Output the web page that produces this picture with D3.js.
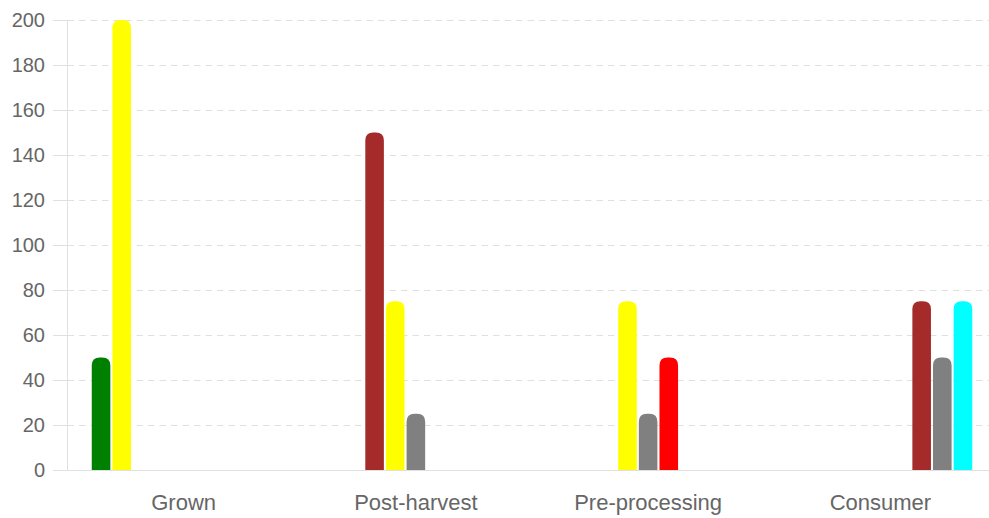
<!DOCTYPE html>
<html>
<head>
<meta charset="utf-8">
<script src="https://cdn.jsdelivr.net/npm/d3@7"></script>
<style>
  html, body { margin: 0; padding: 0; background: #fff; }
  svg { display: block; font-family: "Liberation Sans", Arial, Helvetica, sans-serif; }
</style>
</head>
<body>
<svg id="chart" width="989" height="518"></svg>
<script>
// Supply-chain stages along the x axis
const categories = ["Grown", "Post-harvest", "Pre-processing", "Consumer"];

// One colour per series; series sit side by side inside each stage
const seriesColors = ["green", "yellow", "brown", "yellow", "gray", "red", "brown", "gray", "cyan"];

// Values per series, one entry per stage (null = no bar)
const s0 = [50, null, null, null];
const s1 = [200, null, null, null];
const s2 = [null, 150, null, null];
const s3 = [null, 75, 75, null];
const s4 = [null, 25, 25, null];
const s5 = [null, null, 50, null];
const s6 = [null, null, null, 75];
const s7 = [null, null, null, 50];
const s8 = [null, null, null, 75];
const seriesValues = [s0, s1, s2, s3, s4, s5, s6, s7, s8];

const yTicks = [0, 20, 40, 60, 80, 100, 120, 140, 160, 180, 200];

(function draw() {
  const svg = d3.select("#chart");
  const plotLeft = 67.5, plotRight = 996.5, plotTop = 20, plotBottom = 470;
  const lineColor = "#e0e0e0";

  const x = d3.scaleBand().domain(categories).range([plotLeft, plotRight]);
  const B = x.bandwidth();
  const xs = d3.scaleBand()
    .domain(d3.range(seriesValues.length))
    .range([0.1 * B, 0.9 * B])
    .paddingInner(0.1)
    .paddingOuter(0.05);
  const y = d3.scaleLinear().domain([0, 200]).range([plotBottom, plotTop]);

  // Horizontal grid (dashed) and tick stubs
  const grid = svg.append("g");
  yTicks.filter(d => d !== 0).forEach(t => {
    const yy = Math.round(y(t)) + 0.5;
    grid.append("line")
      .attr("x1", plotLeft).attr("x2", 989).attr("y1", yy).attr("y2", yy)
      .attr("stroke", lineColor).attr("stroke-width", 1)
      .attr("stroke-dasharray", "6.5,5");
  });
  yTicks.forEach(t => {
    const yy = Math.round(y(t)) + 0.5;
    grid.append("line")
      .attr("x1", 53).attr("x2", plotLeft).attr("y1", yy).attr("y2", yy)
      .attr("stroke", lineColor).attr("stroke-width", 1);
  });

  // Y axis line
  svg.append("line")
    .attr("x1", plotLeft).attr("x2", plotLeft).attr("y1", plotTop).attr("y2", plotBottom)
    .attr("stroke", lineColor).attr("stroke-width", 1);

  // Bars with rounded top corners
  function barPath(x0, w, y0, y1, r) {
    r = Math.min(r, w / 2, y1 - y0);
    return `M${x0},${y1}V${y0 + r}Q${x0},${y0} ${x0 + r},${y0}H${x0 + w - r}Q${x0 + w},${y0} ${x0 + w},${y0 + r}V${y1}Z`;
  }
  const bars = svg.append("g");
  seriesValues.forEach((vals, si) => {
    vals.forEach((v, ci) => {
      if (v == null) return;
      const x0 = x(categories[ci]) + xs(si);
      bars.append("path")
        .attr("d", barPath(x0, xs.bandwidth(), y(v), y(0), 8))
        .attr("fill", seriesColors[si]);
    });
  });

  // X axis line
  svg.append("line")
    .attr("x1", plotLeft).attr("x2", 989)
    .attr("y1", Math.round(y(0)) + 0.5).attr("y2", Math.round(y(0)) + 0.5)
    .attr("stroke", lineColor).attr("stroke-width", 1);

  // Y tick labels
  svg.append("g").selectAll("text").data(yTicks).join("text")
    .attr("x", 45).attr("y", d => y(d) + 7)
    .attr("text-anchor", "end")
    .attr("font-size", 20)
    .attr("fill", "#666")
    .text(d => d);

  // X category labels
  svg.append("g").selectAll("text").data(categories).join("text")
    .attr("x", d => x(d) + B / 2).attr("y", 510)
    .attr("text-anchor", "middle")
    .attr("font-size", 22)
    .attr("fill", "#666")
    .text(d => d);
})();
</script>
</body>
</html>
